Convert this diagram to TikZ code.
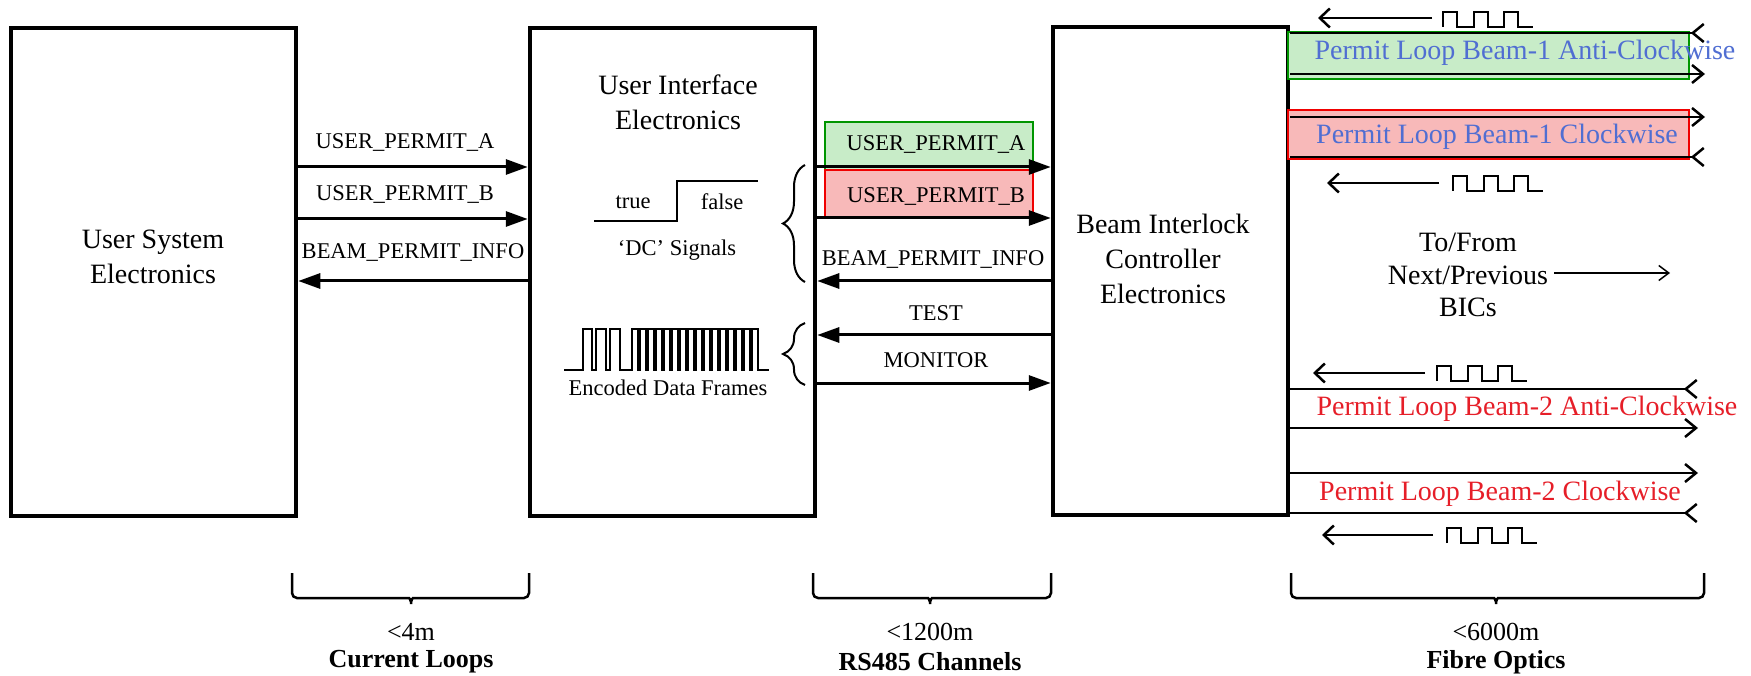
\documentclass[tikz,border=0pt]{standalone}
\usepackage{fontspec}
\setmainfont{Liberation Serif}
\usetikzlibrary{arrows.meta,decorations.pathreplacing}
\definecolor{gbox}{RGB}{0,150,0}
\definecolor{gfill}{RGB}{200,236,200}
\definecolor{rbox}{RGB}{240,0,0}
\definecolor{rfill}{RGB}{248,185,185}
\definecolor{bluetxt}{RGB}{80,110,210}
\definecolor{redtxt}{RGB}{230,30,40}
\begin{document}
\begin{tikzpicture}[x=1pt,y=-1pt,
  box/.style={draw,line width=4.5pt,inner sep=0pt,minimum width=#1,minimum height=488pt},
  title/.style={align=center,font=\rmfamily\fontsize{28}{35}\selectfont,inner sep=0pt},
  lbl/.style={font=\rmfamily\fontsize{22.5}{27}\selectfont,inner sep=0pt},
  fibtxt/.style={font=\rmfamily\fontsize{28}{34}\selectfont,inner sep=0pt},
  bottxt/.style={font=\rmfamily\fontsize{26}{30}\selectfont,inner sep=0pt},
  botbf/.style={font=\rmfamily\bfseries\fontsize{26}{30}\selectfont,inner sep=0pt},
  cbox/.style={line width=2.5pt,inner sep=0pt},
  sig/.style={line width=3pt,-{Triangle[length=22pt,width=15pt]}},
  fibout/.style={line width=2.5pt,-{Straight Barb[length=11pt,width=18pt]}},
  fibin/.style={line width=2.5pt,-{Straight Barb[reversed,length=11pt,width=18pt]}},
  warr/.style={line width=2.5pt,-{Straight Barb[length=10pt,width=19pt]}},
  wave/.style={line width=2.5pt},
  brc/.style={line width=2pt,decorate,decoration={brace,amplitude=22pt}},
  bbrc/.style={line width=2.5pt,rounded corners=5pt},
  sqwave/.pic={\draw[wave] (0,0) -- (0,-15) -- (14,-15) -- (14,0) -- (31,0) -- (31,-15) -- (45,-15) -- (45,0) -- (61,0) -- (61,-15) -- (75,-15) -- (75,0) -- (90,0);}
]
\useasboundingbox (0,0) rectangle (1751,676);

% main boxes
\node[box=285pt] (usr) at (153.5,272) {};
\node[box=285pt] (ui) at (672.5,272) {};
\node[box=235pt] (bic) at (1170.5,271) {};

\node[title] (usrt) at (153,257) {User System\\Electronics};
\node[title] (uit) at (678,102) {User Interface\\Electronics};
\node[title] (bict) at (1163,259) {Beam Interlock\\Controller\\Electronics};

% left section
\node[lbl] (la) at (405,143) {USER\_PERMIT\_A};
\node[lbl] (lb) at (405,195) {USER\_PERMIT\_B};
\node[lbl] (li) at (413,253) {BEAM\_PERMIT\_INFO};
\draw[sig] (usr.east |- 0,167) -- (ui.west |- 0,167);
\draw[sig] (usr.east |- 0,219) -- (ui.west |- 0,219);
\draw[sig] (ui.west |- 0,281) -- (usr.east |- 0,281);

% inside UI box
\node[lbl] (tru) at (633,202) {true};
\node[lbl] (fal) at (722,202) {false};
\draw[wave] (594,221) -- (677,221) -- (677,181) -- (758,181);
\node[lbl] (dcs) at (677,250) {‘DC’ Signals};
\draw[line width=2pt] (564,370) -- (583,370) -- (583,329) -- (592,329) -- (592,370) -- (596,370) -- (596,329) -- (606,329) -- (606,370) -- (610,370) -- (610,329) -- (620,329) -- (620,370) -- (632,370)
  \foreach \a in {632,640,...,752} { -- (\a,370) -- (\a,329) -- (\a+6,329) -- (\a+6,370) } -- (769,370);
\node[lbl] (edf) at (668,388) {Encoded Data Frames};
\draw[brc] (805,282) -- (805,165);
\draw[brc] (805,385) -- (805,323);

% middle section
\node[cbox,draw=gbox,fill=gfill,minimum width=208pt,minimum height=48pt] (gup) at (929,146) {};
\node[cbox,draw=rbox,fill=rfill,minimum width=208pt,minimum height=48pt] (rup) at (929,194) {};
\node[lbl] (ma) at (936,145) {USER\_PERMIT\_A};
\node[lbl] (mb) at (936,197) {USER\_PERMIT\_B};
\node[lbl] (mi) at (933,260) {BEAM\_PERMIT\_INFO};
\node[lbl] (mt) at (936,313) {TEST};
\node[lbl] (mm) at (936,360) {MONITOR};
\draw[sig] (ui.east |- 0,167) -- (bic.west |- 0,167);
\draw[sig] (ui.east |- 0,218) -- (bic.west |- 0,218);
\draw[sig] (bic.west |- 0,281) -- (ui.east |- 0,281);
\draw[sig] (bic.west |- 0,335) -- (ui.east |- 0,335);
\draw[sig] (ui.east |- 0,383) -- (bic.west |- 0,383);

% right section: beam 1
\node[cbox,draw=gbox,fill=gfill,minimum width=401pt,minimum height=47pt] (gfb) at (1488.5,55.5) {};
\node[cbox,draw=rbox,fill=rfill,minimum width=401pt,minimum height=49pt] (rfb) at (1488.5,134.5) {};
\node[fibtxt,text=bluetxt] (b1a) at (1525,53) {Permit Loop Beam-1 Anti-Clockwise};
\node[fibtxt,text=bluetxt] (b1c) at (1497,137) {Permit Loop Beam-1 Clockwise};
\coordinate (e1) at (1705,33);
\coordinate (e2) at (1705,74);
\coordinate (e3) at (1705,117);
\coordinate (e4) at (1705,157);
\draw[fibin] (bic.east |- e1) -- (e1);
\draw[fibout] (bic.east |- e2) -- (e2);
\draw[fibout] (bic.east |- e3) -- (e3);
\draw[fibin] (bic.east |- e4) -- (e4);

\coordinate (w1s) at (1432,18);
\coordinate (w1e) at (1318,18);
\draw[warr] (w1s) -- (w1e);
\pic at (1443,27) {sqwave};
\coordinate (w2s) at (1439,183);
\coordinate (w2e) at (1327,183);
\draw[warr] (w2s) -- (w2e);
\pic at (1453,191) {sqwave};

% to/from
\node[title,font=\rmfamily\fontsize{28}{32.5}\selectfont,inner sep=6pt] (tf) at (1468,275) {To/From\\Next/Previous\\BICs};
\coordinate (tfe) at (1670,273);
\draw[line width=1.5pt,-{Straight Barb[length=10pt,width=15pt]}] (tf.east |- tfe) -- (tfe);

% right section: beam 2
\coordinate (w3s) at (1425,373);
\coordinate (w3e) at (1313,373);
\draw[warr] (w3s) -- (w3e);
\pic at (1437,381) {sqwave};
\coordinate (f1) at (1698,389);
\coordinate (f2) at (1698,428);
\coordinate (f3) at (1698,473);
\coordinate (f4) at (1698,513);
\draw[fibin] (bic.east |- f1) -- (f1);
\draw[fibout] (bic.east |- f2) -- (f2);
\draw[fibout] (bic.east |- f3) -- (f3);
\draw[fibin] (bic.east |- f4) -- (f4);
\node[fibtxt,text=redtxt] (b2a) at (1527,409) {Permit Loop Beam-2 Anti-Clockwise};
\node[fibtxt,text=redtxt] (b2c) at (1500,494) {Permit Loop Beam-2 Clockwise};
\coordinate (w4s) at (1433,535);
\coordinate (w4e) at (1322,535);
\draw[warr] (w4s) -- (w4e);
\pic at (1447,543) {sqwave};

% bottom braces
\draw[bbrc] (292,573) -- (292,598) -- (404,598) .. controls (409,598) and (411,600) .. (411,607) .. controls (411,600) and (413,598) .. (418,598) -- (529,598) -- (529,573);
\draw[bbrc] (813,573) -- (813,598) -- (923,598) .. controls (928,598) and (930,600) .. (930,607) .. controls (930,600) and (932,598) .. (937,598) -- (1051,598) -- (1051,573);
\draw[bbrc] (1291,573) -- (1291,598) -- (1489,598) .. controls (1494,598) and (1496,600) .. (1496,607) .. controls (1496,600) and (1498,598) .. (1503,598) -- (1704,598) -- (1704,573);
\node[bottxt] (d1) at (411,632) {<4m};
\node[botbf] (n1) at (411,662) {Current Loops};
\node[bottxt] (d2) at (930,632) {<1200m};
\node[botbf] (n2) at (930,662) {RS485 Channels};
\node[bottxt] (d3) at (1496,632) {<6000m};
\node[botbf] (n3) at (1496,662) {Fibre Optics};
\end{tikzpicture}
\end{document}
